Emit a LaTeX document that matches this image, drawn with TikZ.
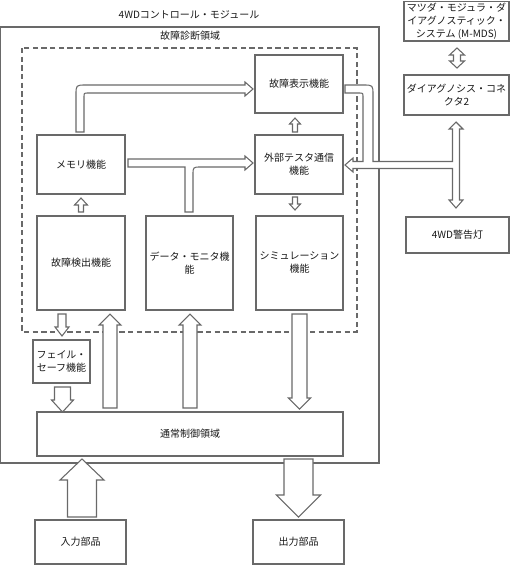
\documentclass[tikz,border=0pt]{standalone}
\usepackage{fontspec}
\setmainfont{Noto Sans CJK JP}
\definecolor{lc}{RGB}{105,105,105}
\definecolor{tc}{RGB}{25,25,25}
\newcommand\myvarrow[6]{\draw[barrow] ({#1-#2},#6) -- ({#1-#2},#5) -- ({#1-#3},#5) -- (#1,#4) -- ({#1+#3},#5) -- ({#1+#2},#5) -- ({#1+#2},#6) -- cycle;}
\newcommand\mybox[6]{\node[box, minimum width={(#4-#2)*0.75pt}, minimum height={(#5-#3)*0.75pt}] (#1) at ({(#2+#4)/2},{(#3+#5)/2}) {#6};}
\begin{document}
\begin{tikzpicture}[x=0.75pt,y=-0.75pt,
  font=\fontsize{7.5pt}{9.75pt}\selectfont,
  box/.style={draw=lc, line width=0.8pt, fill=white, text=tc, align=center, inner sep=0pt},
  barrow/.style={draw=lc, line width=0.8pt, fill=white, line join=miter},
  lbl/.style={text=tc, inner sep=0pt}]
\useasboundingbox (0,0) rectangle (512,565);

% outer module and diagnostic area
\draw[draw=lc, line width=0.8pt] (0.5,27) rectangle (379,463);
\node[lbl] (title) at (189,15) {4WDコントロール・モジュール};
\draw[draw=lc, line width=0.8pt, dash pattern=on 4pt off 2.5pt] (22,48) rectangle (357,332);
\node[lbl] (diag) at (190,36) {故障診断領域};

% boxes
\mybox{disp}{255}{55}{343}{113}{故障表示機能}
\mybox{mem}{37}{135}{125}{194}{メモリ機能}
\mybox{ext}{255}{135}{343}{194}{外部テスタ通信\\機能}
\mybox{det}{37}{216}{125}{310}{故障検出機能}
\mybox{mon}{146}{216}{233}{310}{データ・モニタ機\\能}
\mybox{sim}{256}{216}{343}{310}{シミュレーション\\機能}
\mybox{fs}{33}{340}{90}{383}{フェイル・\\セーフ機能}
\mybox{norm}{37}{412}{343}{456}{通常制御領域}
\mybox{inp}{35}{520}{126}{564}{入力部品}
\mybox{outp}{253}{520}{344}{564}{出力部品}
\mybox{mmds}{404}{1.5}{509}{41}{マツダ・モジュラ・ダ\\イアグノスティック・\\システム (M-MDS)}
\mybox{conn}{404}{75}{509}{115}{ダイアグノシス・コネ\\クタ2}
\mybox{lamp}{406}{217}{509}{253}{4WD警告灯}

% memory -> fault display (bent)
\draw[barrow] (76,132) -- (76,95) .. controls (76,85) .. (86,85) -- (245,85) -- (245,82) -- (253,89) -- (245,96) -- (245,93) -- (88,93) .. controls (84,93) .. (84,97) -- (84,132) -- cycle;

% memory -> external tester, merged with data monitor
\draw[barrow] (128,159) -- (245,159) -- (245,156) -- (253,163) -- (245,170) -- (245,167) -- (201,167) .. controls (193,167) .. (193,175) -- (193,212) -- (185,212) -- (185,167) -- (128,167) -- cycle;

% fault display / connector / lamp -> external tester (T shape)
\draw[barrow] (345,165) -- (353,158) -- (353,161.5) -- (363,161.5) -- (363,97) .. controls (363,93) .. (359,93) -- (345,93) -- (345,85) -- (363,85) .. controls (373,85) .. (373,95) -- (373,161.5) -- (452.5,161.5) -- (452.5,129) -- (449,129) -- (456,122) -- (463,129) -- (459.5,129) -- (459.5,200) -- (463,200) -- (456,208) -- (449,200) -- (452.5,200) -- (452.5,168.5) -- (353,168.5) -- (353,172) -- cycle;

% M-MDS <-> connector
\draw[barrow] (453.5,55) -- (449.5,55) -- (457,48) -- (464.5,55) -- (460.5,55) -- (460.5,61) -- (464.5,61) -- (457,68) -- (449.5,61) -- (453.5,61) -- cycle;

% small arrows
\myvarrow{295}{2.5}{5.5}{118}{124}{132}
\myvarrow{295}{2.5}{5.5}{210}{204}{197}
\myvarrow{81}{2.5}{6.5}{198}{205}{212}
\myvarrow{62}{4}{7}{336}{327}{314}
\myvarrow{62.5}{8}{11}{412}{400}{387}

% tall arrows
\myvarrow{110}{7}{11}{314}{325}{408}
\myvarrow{190}{7}{11}{314}{325}{408}
\myvarrow{299.5}{7.5}{11}{409}{398}{314}

% big arrows
\myvarrow{82}{14.5}{22}{459}{480}{517}
\myvarrow{298.5}{14.5}{22}{517}{495}{459}
\end{tikzpicture}
\end{document}
